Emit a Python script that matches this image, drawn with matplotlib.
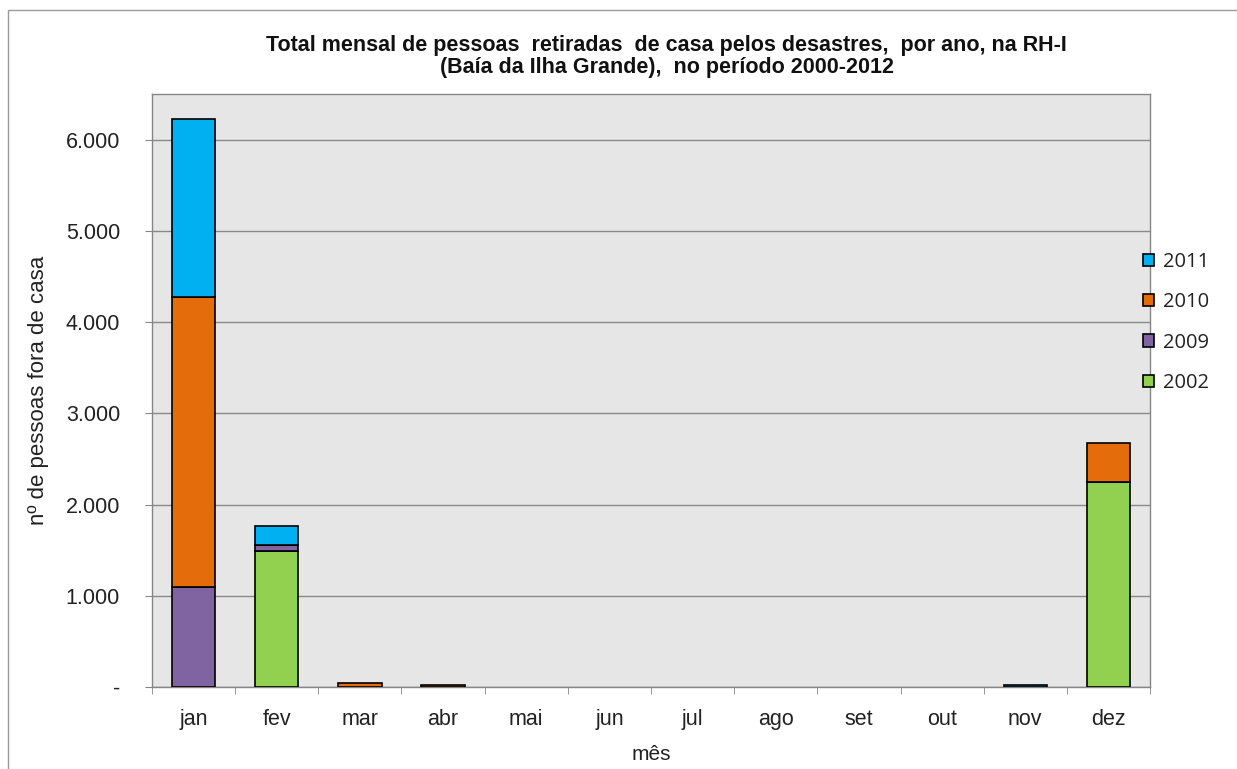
import numpy as np
import matplotlib.pyplot as plt
import matplotlib as mpl
from matplotlib import patches
from matplotlib.ticker import FuncFormatter, FixedLocator

months = ['jan', 'fev', 'mar', 'abr', 'mai', 'jun', 'jul', 'ago', 'set', 'out', 'nov', 'dez']
v2002 = [0, 1496, 0, 0, 0, 0, 0, 0, 0, 0, 0, 2249]
v2009 = [1094, 59, 0, 0, 0, 0, 0, 0, 0, 0, 0, 0]
v2010 = [3183, 0, 45, 20, 0, 0, 0, 0, 0, 0, 0, 423]
v2011 = [1952, 211, 0, 0, 0, 0, 0, 0, 0, 0, 20, 0]

mpl.rcParams['font.family'] = ['Liberation Sans', 'DejaVu Sans']

fig = plt.figure(figsize=(12.37, 7.69), dpi=100)
# outer chart border
fig.patches.append(patches.Rectangle((8 / 1237, -0.01), 1.0, 1 - 10 / 769 + 0.01,
                                     transform=fig.transFigure, fill=False,
                                     edgecolor='#9a9a9a', linewidth=1.0))

ax = fig.add_axes([152 / 1237, 82 / 769, 998 / 1237, 593 / 769])
ax.set_facecolor('#e6e6e6')

x = np.arange(len(months))
series = [('2002', v2002, '#92d050'), ('2009', v2009, '#8064a2'),
          ('2010', v2010, '#e46c0a'), ('2011', v2011, '#00b0f0')]
bottom = np.zeros(len(months))
handles = []
for name, vals, col in series:
    vals = np.array(vals, dtype=float)
    m = vals > 0
    b = ax.bar(x[m], vals[m], bottom=bottom[m], width=0.52, color=col,
               edgecolor='black', linewidth=1.2, zorder=3, label=name)
    handles.append(b)
    bottom += vals

ax.set_xlim(-0.5, 11.5)
ax.set_ylim(0, 6500)
ax.yaxis.set_major_locator(FixedLocator(np.arange(0, 6001, 1000)))
ax.yaxis.set_major_formatter(FuncFormatter(lambda v, p: '-' if v == 0 else '{:,.0f}'.format(v).replace(',', '.')))
ax.grid(axis='y', color='#8a8a8a', linewidth=1.0, zorder=1)
ax.set_xticks(x)
ax.set_xticklabels(months)
ax.set_xticks(np.arange(-0.5, 12, 1), minor=True)
ax.tick_params(axis='x', which='major', length=0, pad=16, labelsize=15.5, labelcolor='#222222')
ax.tick_params(axis='x', which='minor', length=5, direction='out', color='#868686')
ax.tick_params(axis='y', length=5, direction='out', color='#868686', labelsize=15.5, pad=18,
               labelcolor='#222222')
for s in ax.spines.values():
    s.set_color('#868686')
    s.set_linewidth(1.0)

ax.set_xlabel('mês', fontsize=15, labelpad=11, color='#222222')
ax.set_ylabel('nº de pessoas fora de casa', fontsize=16, labelpad=12, color='#222222')

fig.text(0.539, 0.9265, 'Total mensal de pessoas  retiradas  de casa pelos desastres,  por ano, na RH-I\n'
         '(Baía da Ilha Grande),  no período 2000-2012',
         ha='center', va='center', fontsize=15.5, fontweight='bold', linespacing=1.1,
         color='#111111')

leg = fig.legend(handles[::-1], [h.get_label() for h in handles[::-1]],
                 loc='center left', bbox_to_anchor=(1125 / 1237, 0.5806),
                 frameon=False, prop={'family': 'Open Sans', 'size': 14.5}, labelspacing=1.0,
                 handlelength=0.55, handleheight=0.55, handletextpad=0.45)
for t in leg.get_texts():
    t.set_color('#222222')

fig.savefig('out.png', dpi=100)
